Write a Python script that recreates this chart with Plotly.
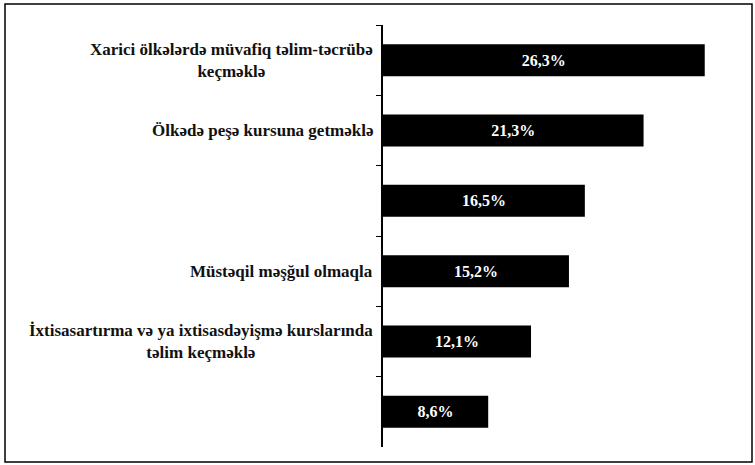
import plotly.graph_objects as go

categories = [
    "Xarici ölkələrdə müvafiq təlim-təcrübə<br>keçməklə",
    "Ölkədə peşə kursuna getməklə",
    "",
    "Müstəqil məşğul olmaqla",
    "İxtisasartırma və ya ixtisasdəyişmə kurslarında<br>təlim keçməklə",
    "",
]
values = [26.3, 21.3, 16.5, 15.2, 12.1, 8.6]
ids = ["c1", "c2", "c3", "c4", "c5", "c6"]

W, H = 755, 465
L, R, T, B = 383, 5, 25, 18

fig = go.Figure(go.Bar(
    x=values, y=ids, orientation="h",
    marker=dict(color="#000000", line=dict(width=0)),
    texttemplate="%{x:.1f}%", textposition="inside", insidetextanchor="middle",
    textfont=dict(family="Liberation Serif", size=16, color="white", weight="bold"),
    hoverinfo="skip",
))

for cid, lab in zip(ids, categories):
    if lab:
        fig.add_annotation(
            x=0, xref="paper", y=cid, yref="y", text=lab, showarrow=False,
            xanchor="right", yanchor="middle", align="center", xshift=-8,
            font=dict(family="Liberation Serif", size=17, color="#111111", weight="bold"),
        )

fig.update_layout(
    width=W, height=H,
    margin=dict(l=L, r=R, t=T, b=B),
    paper_bgcolor="white", plot_bgcolor="white",
    separators=",.",
    bargap=0.545,
    showlegend=False,
    xaxis=dict(range=[0, 30], showgrid=False, zeroline=False, showticklabels=False,
               showline=False, ticks=""),
    yaxis=dict(autorange="reversed", showgrid=False, zeroline=False, showticklabels=False,
               showline=True, linecolor="black", linewidth=1.5,
               ticks="outside", ticklen=5, tickcolor="black", tickson="boundaries"),
    shapes=[dict(type="rect", xref="paper", yref="paper",
                 x0=(5 - L) / (W - L - R), x1=(752 - L) / (W - L - R),
                 y0=(H - B - 462) / (H - T - B), y1=(H - B - 4) / (H - T - B),
                 line=dict(color="black", width=1.5))],
)

fig.write_html("out.html", config={"displayModeBar": False},
               post_script="document.body.style.margin='0';")
